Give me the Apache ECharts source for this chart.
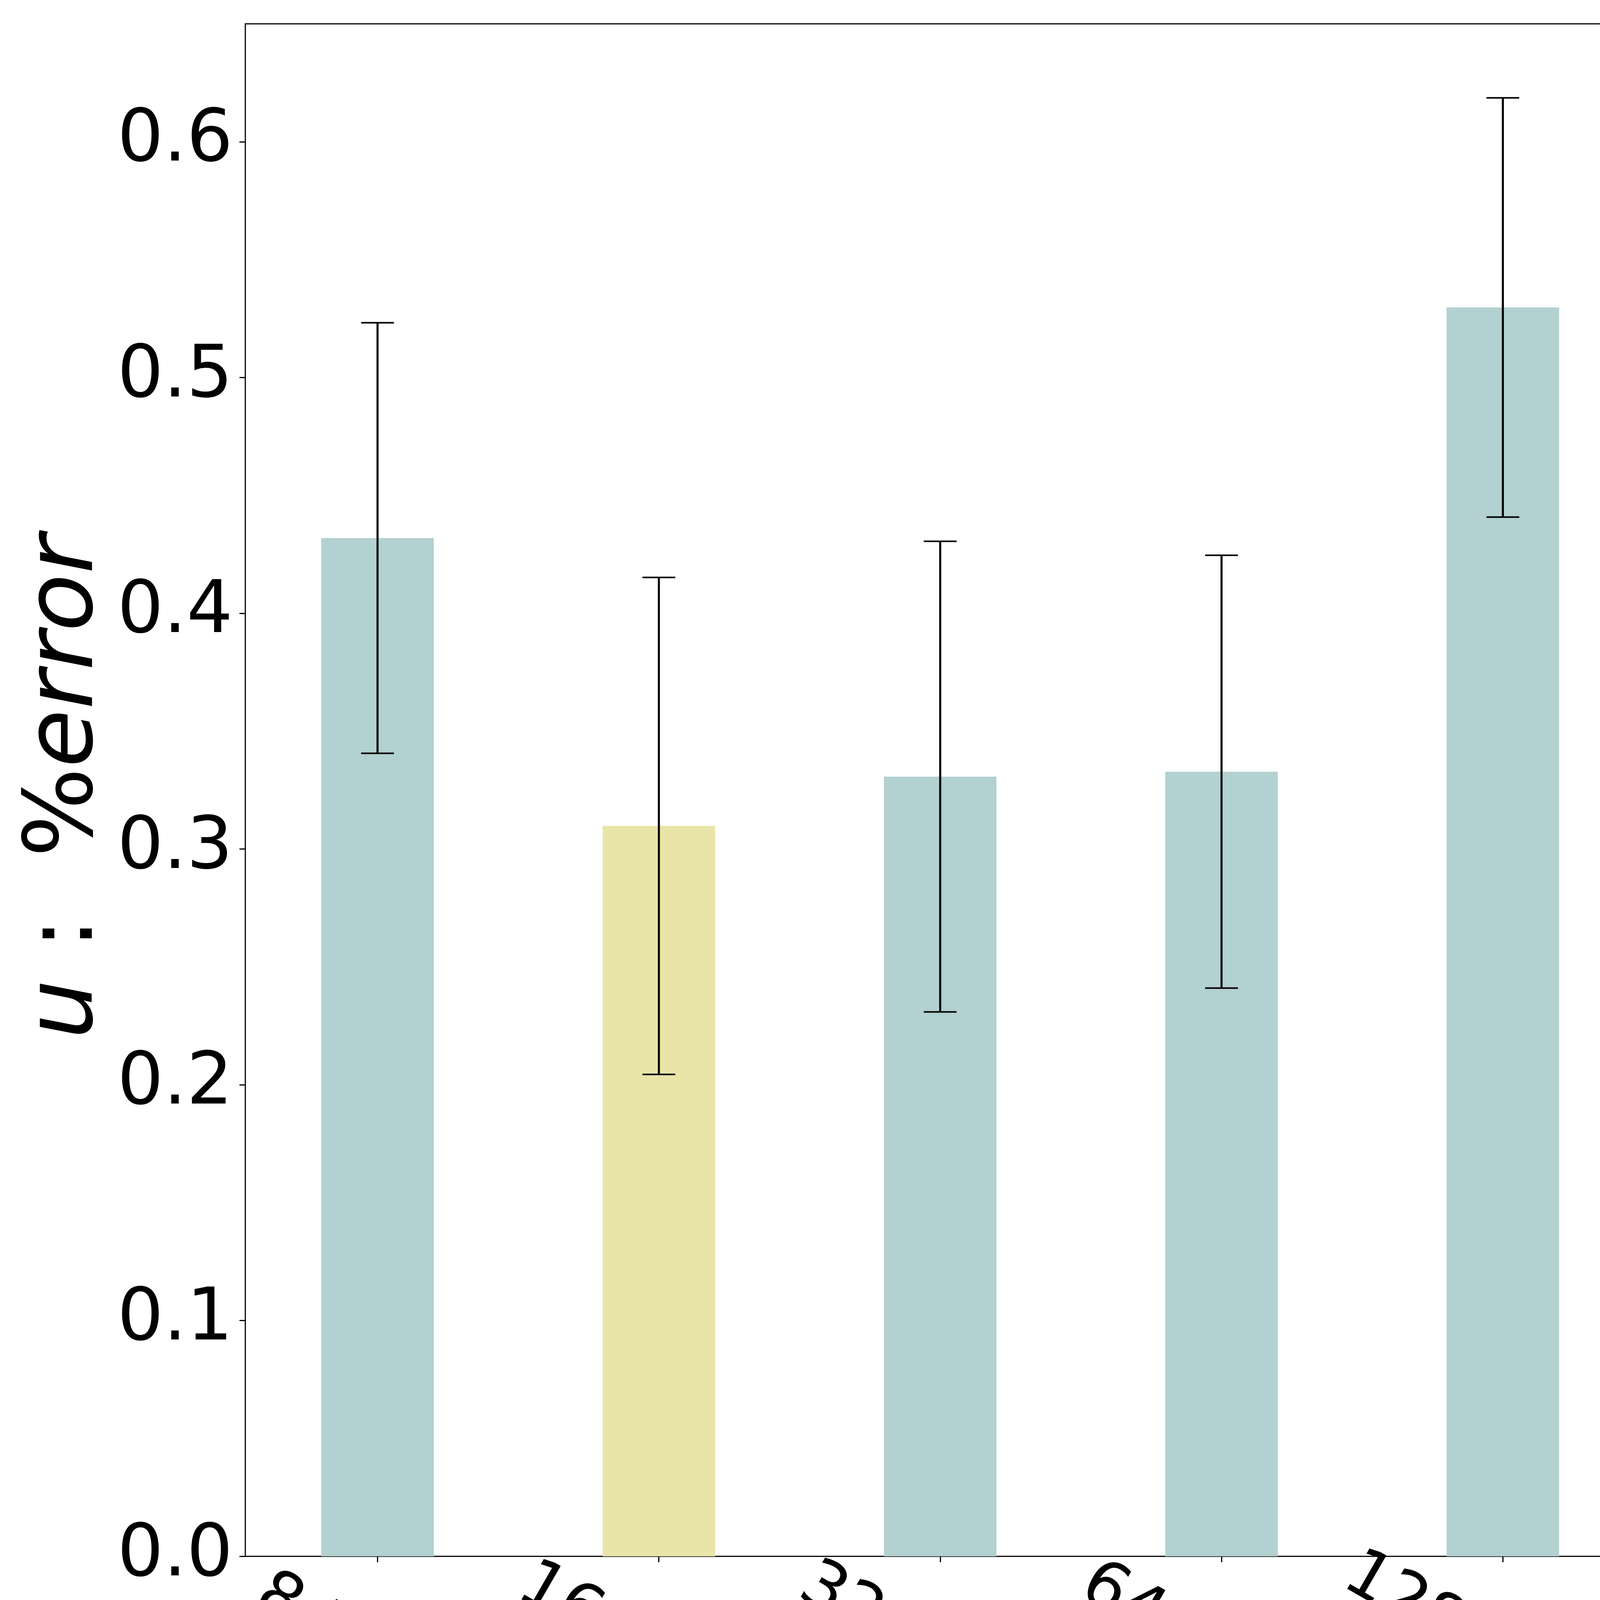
<!DOCTYPE html>
<html><head><meta charset="utf-8">
<style>html,body{margin:0;padding:0;background:#fff}#c{width:5007px;height:4549px}</style>
<script src="https://cdn.jsdelivr.net/npm/echarts@6/dist/echarts.min.js"></script>
</head><body><div id="c"></div>
<script>
const categories = ['8 Nodes', '16 Nodes', '32 Nodes', '64 Nodes', '128 Nodes', '256 Nodes'];
const meanValues = [0.4319, 0.3098, 0.3307, 0.3328, 0.5297, 0.3243];
const errorValues = [0.0913, 0.1054, 0.0998, 0.0918, 0.0889, 0.0880];
const yTicks = [0, 0.1, 0.2, 0.3, 0.4, 0.5, 0.6];
const xTicks = [0, 1, 2, 3, 4, 5];

const TEAL = '#b2d1d0', YELLOW = '#e9e5a8';
const colorFor = i => (i === 1 ? YELLOW : TEAL);
const FONT = 'DejaVu Sans';

const chart = echarts.init(document.getElementById('c'), null, {renderer: 'canvas'});
const data = categories.map((c, i) => [i, meanValues[i], errorValues[i]]);

const option = {
  backgroundColor: '#ffffff',
  animation: false,
  grid: {left: 628, top: 61, right: 80, bottom: 561, show: true, borderColor: '#000', borderWidth: 3, backgroundColor: 'transparent'},
  xAxis: {
    type: 'value', min: -0.47, max: 5.47,
    axisLine: {show: false, onZero: false},
    splitLine: {show: false},
    axisTick: {show: true, inside: false, length: 15, lineStyle: {color: '#000', width: 3}, customValues: xTicks},
    axisLabel: {
      customValues: xTicks,
      formatter: v => categories[Math.round(v)] || '',
      rotate: -30, align: 'center', verticalAlign: 'middle', margin: 262,
      fontSize: 170, fontFamily: FONT, color: '#000'
    }
  },
  yAxis: {
    type: 'value', min: 0, max: 0.65, interval: 0.1,
    axisLine: {show: false, onZero: false},
    splitLine: {show: false},
    axisTick: {show: true, inside: false, length: 15, lineStyle: {color: '#000', width: 3}, customValues: yTicks},
    axisLabel: {
      customValues: yTicks,
      formatter: v => v.toFixed(1),
      margin: 32, fontSize: 186, fontFamily: FONT, color: '#000'
    }
  },
  graphic: [{
    type: 'text', x: 172, y: 2015, rotation: Math.PI / 2,
    style: {
      text: '{i|u}{n| :  %}{i|error}',
      align: 'center', verticalAlign: 'middle',
      rich: {
        i: {fontStyle: 'italic', fontSize: 242, fontFamily: FONT, fill: '#000'},
        n: {fontSize: 242, fontFamily: FONT, fill: '#000'}
      }
    }
  }],
  series: [{
    type: 'custom', name: 'bars', data: data, encode: {x: 0, y: 1}, z: 2,
    renderItem: (params, api) => {
      const x = api.value(0), v = api.value(1);
      const p0 = api.coord([x - 0.2, v]);
      const p1 = api.coord([x + 0.2, 0]);
      return {type: 'rect', shape: {x: p0[0], y: p0[1], width: p1[0] - p0[0], height: p1[1] - p0[1]},
              style: {fill: colorFor(params.dataIndex)}};
    }
  }, {
    type: 'custom', name: 'errors', data: data, encode: {x: 0, y: 1}, z: 3,
    renderItem: (params, api) => {
      const x = api.value(0), m = api.value(1), e = api.value(2);
      const t = api.coord([x, m + e]), b = api.coord([x, m - e]);
      const cw = 42;
      const st = w => ({stroke: '#000', lineWidth: w});
      return {type: 'group', children: [
        {type: 'line', shape: {x1: t[0], y1: t[1], x2: b[0], y2: b[1]}, style: st(5.3)},
        {type: 'line', shape: {x1: t[0] - cw, y1: t[1], x2: t[0] + cw, y2: t[1]}, style: st(4)},
        {type: 'line', shape: {x1: b[0] - cw, y1: b[1], x2: b[0] + cw, y2: b[1]}, style: st(4)}
      ]};
    }
  }]
};
chart.setOption(option);
</script></body></html>
